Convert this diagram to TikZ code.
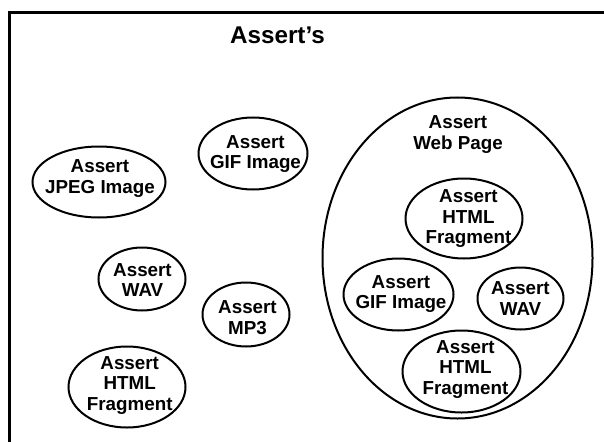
\documentclass[tikz,border=0pt]{standalone}
\usepackage{fontspec}
\setmainfont{Liberation Sans}
\usetikzlibrary{shapes.geometric}

\tikzset{
  bubble/.style={draw, ellipse, line width=2pt, inner sep=0pt},
  lbl/.style={font=\bfseries\fontsize{18.8}{20.7}\selectfont, align=center,
              inner sep=0pt, anchor=north},
  frame/.style={line width=3pt},
}
% size of an ellipse from its two radii (in px)
\tikzset{radii/.style args={#1 and #2}{minimum width=#1*2pt-1pt, minimum height=#2*2pt-1pt}}

\begin{document}
\begin{tikzpicture}[x=1pt, y=-1pt]
  \useasboundingbox (0,0) rectangle (604,441);

  % open frame: only its top and left sides are on the page
  \draw[frame] (610,13) -- (9,13) -- (9,447);

  % title
  \node[font=\bfseries\fontsize{24.2}{28}\selectfont, inner sep=0pt, anchor=north]
    (title) at (277.5,27) {Assert’s};

  % loose asserts
  \node[bubble, radii=67 and 36]   (jpeg) at (99,182) {};
  \node[lbl] (jpeg-t) at (100,159.3) {Assert\\JPEG Image};

  \node[bubble, radii=55 and 36.5] (gif) at (253,153.5) {};
  \node[lbl] (gif-t) at (255.5,135) {Assert\\GIF Image};

  \node[bubble, radii=44 and 32]   (wav) at (142,279) {};
  \node[lbl] (wav-t) at (142.5,263) {Assert\\WAV};

  \node[bubble, radii=44 and 32.5] (mp3) at (246,314.5) {};
  \node[lbl] (mp3-t) at (247.5,300.7) {Assert\\MP3};

  \node[bubble, radii=59 and 41]   (html) at (127,387) {};
  \node[lbl] (html-t) at (129.7,356) {Assert\\HTML\\Fragment};

  % web page containing its parts
  \node[bubble, radii=135.5 and 161] (web) at (457.5,258) {};
  \node[lbl] (web-t) at (458,115.5) {Assert\\Web Page};

  \node[bubble, radii=59 and 40.5]   (whtmla) at (464,218.5) {};
  \node[lbl] (whtmla-t) at (468.5,189.3) {Assert\\HTML\\Fragment};

  \node[bubble, radii=55.5 and 36.5] (wgif) at (398.5,294.5) {};
  \node[lbl] (wgif-t) at (401,275) {Assert\\GIF Image};

  \node[bubble, radii=43.5 and 31.5] (wwav) at (520.5,298.5) {};
  \node[lbl] (wwav-t) at (520.5,281.7) {Assert\\WAV};

  \node[bubble, radii=59.5 and 41.5] (whtmlb) at (461.5,371.5) {};
  \node[lbl] (whtmlb-t) at (465.5,340) {Assert\\HTML\\Fragment};
\end{tikzpicture}
\end{document}
